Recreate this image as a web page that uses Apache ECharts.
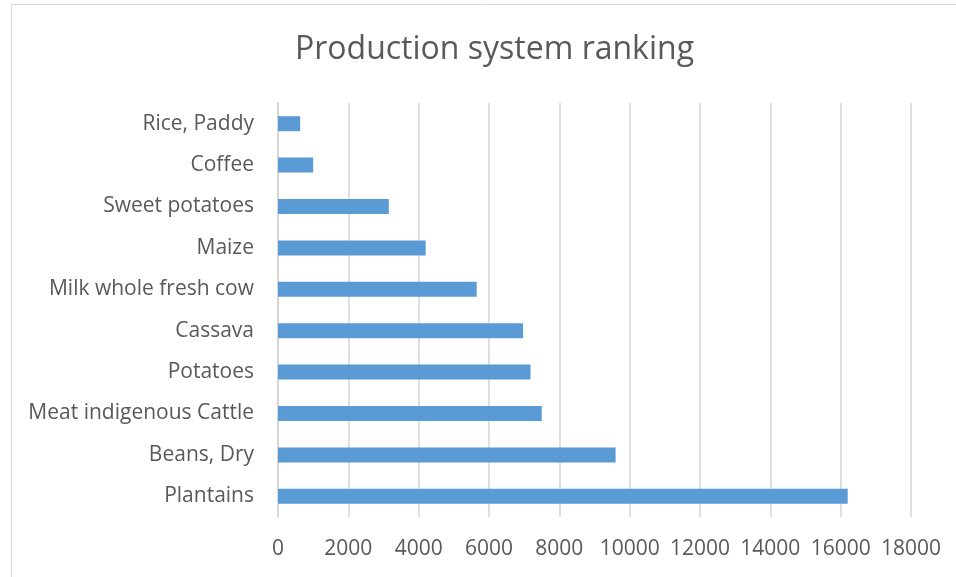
<!DOCTYPE html>
<html>
<head>
<meta charset="utf-8">
<script src="https://cdn.jsdelivr.net/npm/echarts@6/dist/echarts.min.js"></script>
<style>
html,body{margin:0;padding:0;background:#fff;}
#chart{width:956px;height:577px;}
</style>
</head>
<body>
<div id="chart"></div>
<script>
const categories = ["Plantains", "Beans, Dry", "Meat indigenous Cattle", "Potatoes", "Cassava", "Milk whole fresh cow", "Maize", "Sweet potatoes", "Coffee", "Rice, Paddy"];
const values = [16200, 9600, 7500, 7180, 6970, 5650, 4200, 3150, 1000, 630];
const xTicks = [0, 2000, 4000, 6000, 8000, 10000, 12000, 14000, 16000, 18000];

const chart = echarts.init(document.getElementById('chart'), null, {renderer: 'canvas'});
const font = '"Open Sans", sans-serif';
chart.setOption({
  animation: false,
  backgroundColor: '#fff',
  title: {
    text: 'Production system ranking',
    left: 290,
    top: 29,
    textStyle: {fontFamily: font, fontSize: 32, fontWeight: 'normal', color: '#595959'}
  },
  graphic: [{
    type: 'rect',
    shape: {x: 11.5, y: 4.5, width: 960, height: 600},
    style: {fill: 'none', stroke: '#d9d9d9', lineWidth: 1},
    silent: true
  }],
  grid: {left: 278, right: 45, top: 103, bottom: 60},
  xAxis: {
    type: 'value',
    min: xTicks[0],
    max: xTicks[xTicks.length - 1],
    interval: 2000,
    axisLine: {show: false},
    axisTick: {show: false},
    splitLine: {show: true, lineStyle: {color: '#d4d4d4', width: 1.5}},
    axisLabel: {fontFamily: font, fontSize: 21, color: '#595959', margin: 22,
      formatter: function (v) { return String(v); }}
  },
  yAxis: {
    type: 'category',
    data: categories,
    axisLine: {show: true, lineStyle: {color: '#d4d4d4', width: 1.5}},
    axisTick: {show: false},
    axisLabel: {fontFamily: font, fontSize: 21, color: '#595959', margin: 24, padding: [4, 0, 0, 0]}
  },
  series: [{
    type: 'bar',
    data: values,
    barWidth: 15,
    itemStyle: {color: '#5b9bd5'}
  }]
});
</script>
</body>
</html>
